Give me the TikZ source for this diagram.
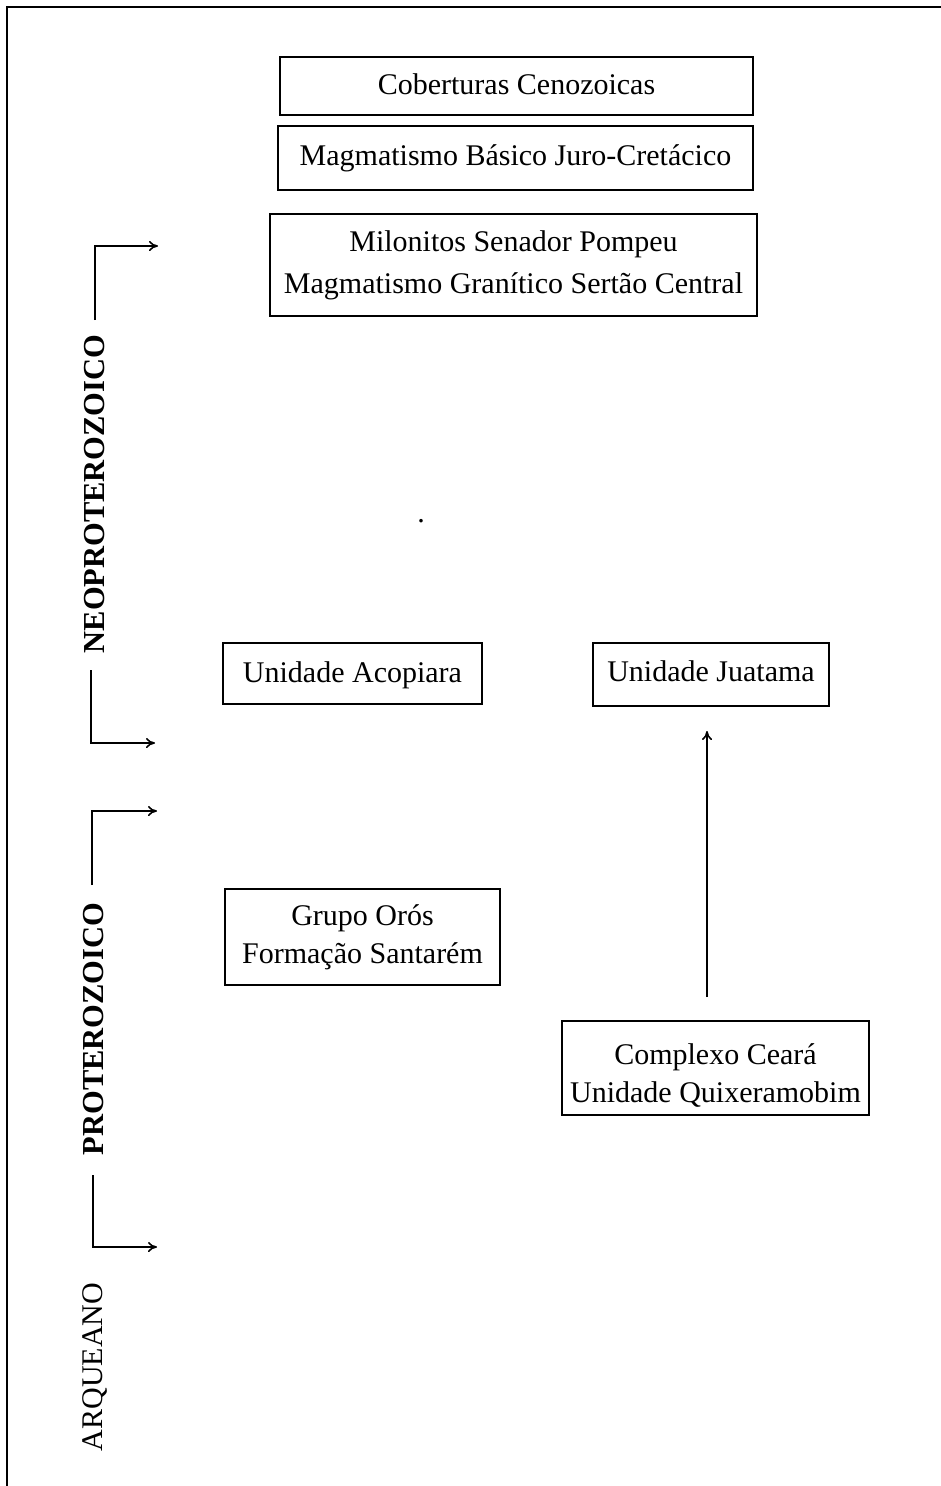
\documentclass[tikz,border=0pt]{standalone}
\usepackage{fontspec}
\setmainfont{Liberation Serif}
\usetikzlibrary{arrows.meta, positioning}

\tikzset{
  unitbox/.style={draw, line width=1.4pt, align=center, inner sep=0pt,
    font=\fontsize{30}{42}\selectfont},
  tightbox/.style={unitbox, font=\fontsize{30}{38}\selectfont},
  eralabel/.style={rotate=90, font=\fontsize{30}{36}\selectfont, inner sep=0pt},
  bracketline/.style={line width=1.6pt, -{To[length=9pt, width=10pt]}}
}

\begin{document}
\begin{tikzpicture}[x=1pt, y=-1pt]
\useasboundingbox (0,0) rectangle (941,1486);
\draw[line width=1.6pt] (7,1486) |- (941,7);

% units
\node (cob) [unitbox, minimum width=473pt, minimum height=58pt] at (516.5,86) {Coberturas Cenozoicas\rule[-4pt]{0pt}{4pt}};
\node (mag) [unitbox, minimum width=475pt, minimum height=64pt] at (515.5,158) {Magmatismo Básico Juro-Cretácico};
\node (mil) [unitbox, minimum width=487pt, minimum height=102pt] at (513.5,265) {Milonitos Senador Pompeu\\Magmatismo Granítico Sertão Central};
\node (aco) [unitbox, minimum width=259pt, minimum height=61pt] at (352.5,673.5) {\rule{0pt}{24pt}Unidade Acopiara};
\node (jua) [unitbox, minimum width=236pt, minimum height=63pt] at (711,674.5) {Unidade Juatama\rule[-7pt]{0pt}{7pt}};
\node (oros) [tightbox, minimum width=275pt, minimum height=96pt] at (362.5,937) {Grupo Orós\\Formação Santarém};
\node (cea) [tightbox, minimum width=307pt, minimum height=94pt] at (715.5,1068) {\rule{0pt}{35pt}Complexo Ceará\\Unidade Quixeramobim};
\node (dot) [font=\fontsize{30}{36}\selectfont, inner sep=0pt] at (421,521) {.};

\coordinate (ceatop) at (707,997);
\coordinate (juabot) at (707,731);
\draw[bracketline] (ceatop) -- (juabot);

% eras
\node (neo) [eralabel, font=\bfseries\fontsize{30.5}{36}\selectfont] at (95,494) {NEOPROTEROZOICO};
\node (pro) [eralabel, font=\bfseries\fontsize{30.5}{36}\selectfont] at (94,1029) {PROTEROZOICO};
\node (arq) [eralabel] at (95,1367) {ARQUEANO};

\coordinate (neo1) at (95,320);  \coordinate (neo1e) at (158,246);
\coordinate (neo2) at (91,670);  \coordinate (neo2e) at (155,743);
\coordinate (pro1) at (92,885);  \coordinate (pro1e) at (157,811);
\coordinate (pro2) at (93,1175); \coordinate (pro2e) at (157,1247);
\draw[bracketline] (neo1) |- (neo1e);
\draw[bracketline] (neo2) |- (neo2e);
\draw[bracketline] (pro1) |- (pro1e);
\draw[bracketline] (pro2) |- (pro2e);
\end{tikzpicture}
\end{document}
